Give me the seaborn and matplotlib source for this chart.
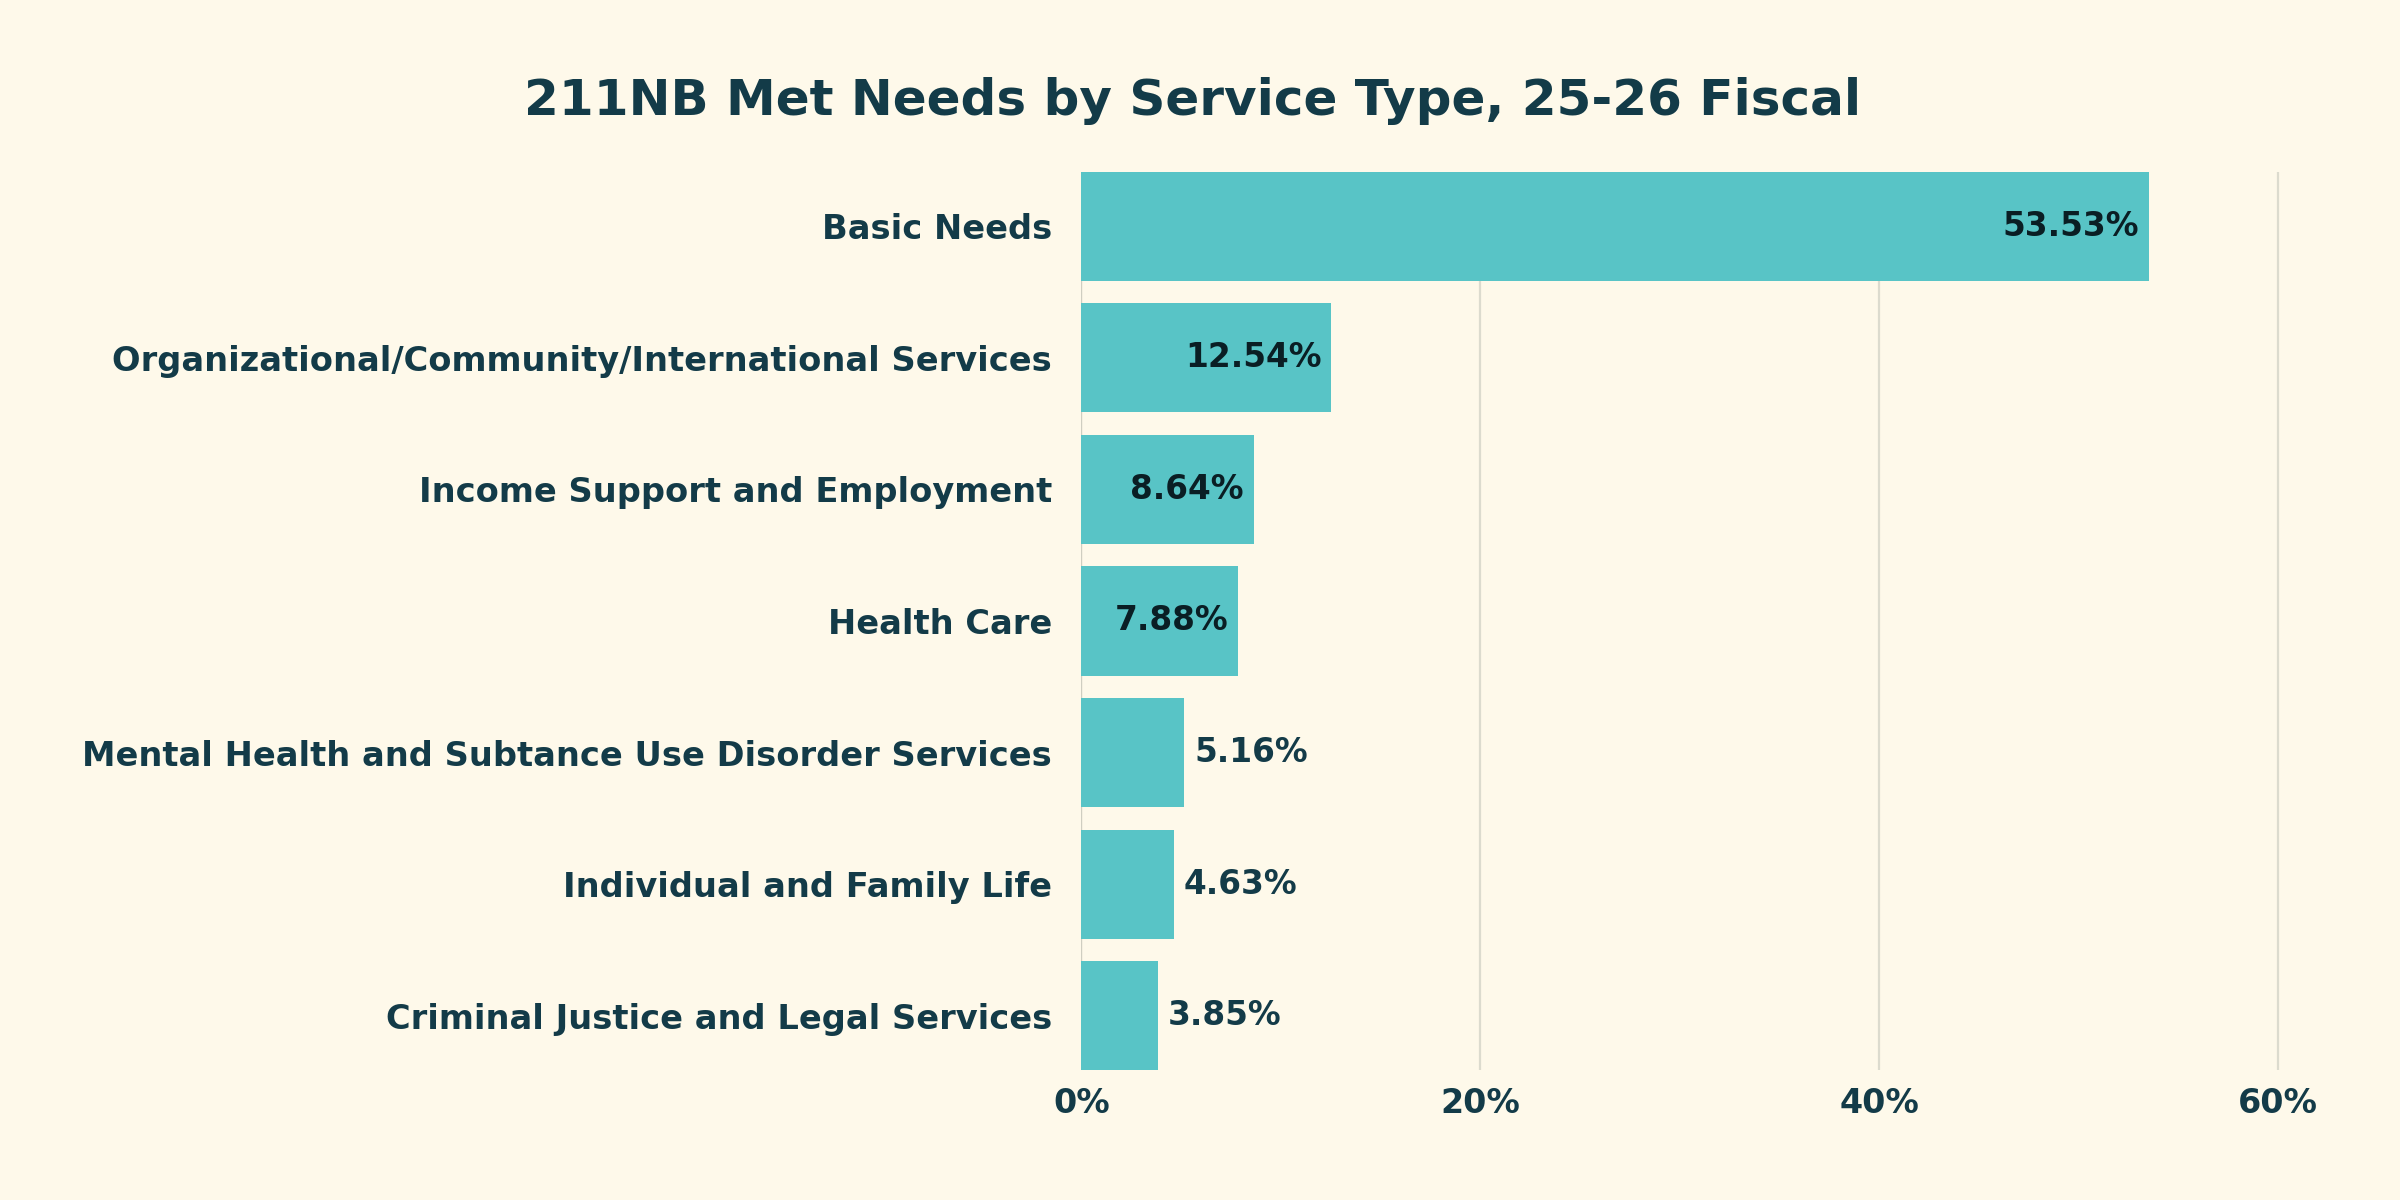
import matplotlib
matplotlib.use("Agg")
import matplotlib.pyplot as plt
import seaborn as sns
import pandas as pd

categories = [
    "Basic Needs",
    "Organizational/Community/International Services",
    "Income Support and Employment",
    "Health Care",
    "Mental Health and Subtance Use Disorder Services",
    "Individual and Family Life",
    "Criminal Justice and Legal Services",
]
shares = [53.53, 12.54, 8.64, 7.88, 5.16, 4.63, 3.85]
x_ticks = [0, 20, 40, 60]
x_tick_labels = ["0%", "20%", "40%", "60%"]
title = "211NB Met Needs by Service Type, 25-26 Fiscal"

bg = "#FEF9EA"
bar_color = "#58C4C6"
text_color = "#133B48"

sns.set_theme(style="white")
plt.rcParams["font.family"] = ["DejaVu Sans"]
plt.rcParams["font.weight"] = "bold"

df = pd.DataFrame({"category": categories, "share": shares})

fig = plt.figure(figsize=(12, 6), dpi=200, facecolor=bg)
ax = fig.add_axes([0.4505, 0.108, 0.507, 0.749])
ax.set_facecolor(bg)

sns.barplot(data=df, x="share", y="category", color=bar_color, saturation=1,
            width=0.83, linewidth=0, ax=ax, zorder=3)

ax.set_xlim(0, 61)
ax.set_ylim(len(categories) - 1 + 0.415, -0.415)
ax.set_xticks(x_ticks)
ax.set_xticklabels(x_tick_labels)
ax.xaxis.grid(True, color="#DCDBCE", linewidth=0.8, zorder=0)
ax.yaxis.grid(False)
for s in ax.spines.values():
    s.set_visible(False)
ax.axvline(0, color="#CFCEC1", linewidth=0.8, zorder=1)
ax.tick_params(axis="both", length=0, colors=text_color)
ax.tick_params(axis="y", pad=10.5, labelsize=12.1)
ax.tick_params(axis="x", pad=6, labelsize=12)
for lab in ax.get_xticklabels() + ax.get_yticklabels():
    lab.set_fontweight("bold")
    lab.set_color(text_color)
ax.set_xlabel("")
ax.set_ylabel("")

for i, v in enumerate(shares):
    if v >= 7:
        ax.text(v - 0.5, i, f"{v:.2f}%", ha="right", va="center",
                fontsize=11.8, fontweight="bold", color="#0A1E24", zorder=4)
    else:
        ax.text(v + 0.5, i, f"{v:.2f}%", ha="left", va="center",
                fontsize=11.8, fontweight="bold", color=text_color, zorder=4)

fig.text(0.497, 0.916, title, ha="center", va="center", fontsize=18,
         fontweight="bold", color=text_color)

fig.savefig("out.png", dpi=200, facecolor=bg)
